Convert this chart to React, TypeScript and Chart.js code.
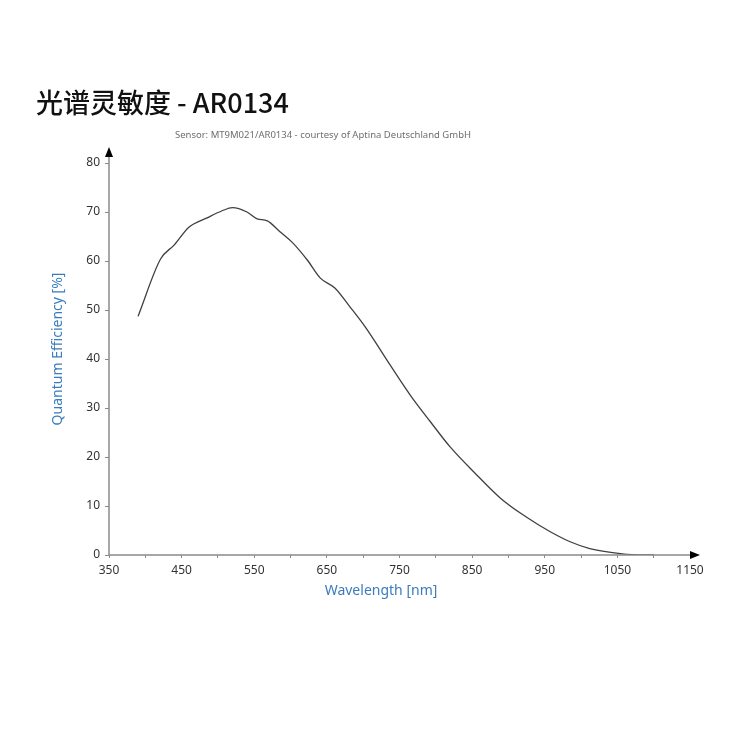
import React, { useEffect, useRef } from "react";
import { Chart, registerables } from "chart.js";

Chart.register(...registerables);

const TITLE = "光谱灵敏度 - AR0134";
const SUBTITLE = "Sensor: MT9M021/AR0134 - courtesy of Aptina Deutschland GmbH";
const X_TITLE = "Wavelength [nm]";
const Y_TITLE = "Quantum Efficiency [%]";

const wavelengths = [390, 421, 440, 460, 485, 505, 520, 540, 554, 568, 585, 603, 623, 641, 661, 682, 703, 737, 765, 792, 820, 854, 889, 923, 957, 985, 1012, 1054, 1085, 1100];
const qe = [48.7, 60.4, 63.3, 66.9, 68.8, 70.2, 70.9, 70.0, 68.6, 68.2, 66.0, 63.7, 60.2, 56.5, 54.5, 50.6, 46.5, 38.8, 32.6, 27.3, 22.0, 16.7, 11.6, 7.9, 4.8, 2.7, 1.3, 0.3, 0.0, 0.0];

const X_MIN = 350;
const X_MAX = 1150;
const Y_MIN = 0;
const Y_MAX = 80;

const FONT = "'Noto Sans', 'Open Sans', sans-serif";
const BLUE = "#3a7cbf";

const decorPlugin = {
  id: "decor",
  afterDraw(chart: any) {
    const ctx = chart.ctx as CanvasRenderingContext2D;
    const ca = chart.chartArea;
    ctx.save();
    ctx.strokeStyle = "#8a8a8a";
    ctx.lineWidth = 1.5;
    ctx.beginPath();
    ctx.moveTo(ca.left, ca.bottom);
    ctx.lineTo(ca.left, ca.top - 8);
    ctx.moveTo(ca.left, ca.bottom);
    ctx.lineTo(ca.right + 4, ca.bottom);
    ctx.stroke();
    ctx.fillStyle = "#000";
    ctx.beginPath();
    ctx.moveTo(ca.left, ca.top - 16);
    ctx.lineTo(ca.left - 4, ca.top - 6);
    ctx.lineTo(ca.left + 4, ca.top - 6);
    ctx.closePath();
    ctx.fill();
    ctx.beginPath();
    ctx.moveTo(ca.right + 10, ca.bottom);
    ctx.lineTo(ca.right, ca.bottom - 4);
    ctx.lineTo(ca.right, ca.bottom + 4);
    ctx.closePath();
    ctx.fill();
    ctx.fillStyle = "#111";
    ctx.textAlign = "left";
    ctx.textBaseline = "alphabetic";
    ctx.font = `500 27px 'Noto Sans CJK SC', ${FONT}`;
    ctx.fillText(TITLE, 36, 113);
    ctx.fillStyle = "#6e6e6e";
    ctx.textAlign = "center";
    ctx.font = `9.5px ${FONT}`;
    ctx.fillText(SUBTITLE, 323, 138);
    ctx.fillStyle = BLUE;
    ctx.font = `14px ${FONT}`;
    ctx.textAlign = "center";
    ctx.textBaseline = "middle";
    ctx.fillText(X_TITLE, 381, 591);
    ctx.save();
    ctx.translate(58, 349);
    ctx.rotate(-Math.PI / 2);
    ctx.fillText(Y_TITLE, 0, 0);
    ctx.restore();
    ctx.restore();
  },
};

export default function App() {
  const ref = useRef<HTMLCanvasElement | null>(null);
  useEffect(() => {
    if (!ref.current) return;
    const chart = new Chart(ref.current, {
      type: "line",
      data: {
        datasets: [
          {
            data: wavelengths.map((w, i) => ({ x: w, y: qe[i] })),
            borderColor: "#404040",
            borderWidth: 1.3,
            pointRadius: 0,
            cubicInterpolationMode: "monotone",
            fill: false,
          },
        ],
      },
      options: {
        animation: false,
        responsive: false,
        maintainAspectRatio: false,
        layout: { padding: { left: 0, top: 163, right: 60, bottom: 0 } },
        plugins: { legend: { display: false }, tooltip: { enabled: false }, title: { display: false } },
        scales: {
          x: {
            type: "linear",
            min: X_MIN,
            max: X_MAX,
            border: { display: false },
            grid: { drawOnChartArea: false, drawTicks: true, tickLength: 3, color: "#8a8a8a" },
            ticks: {
              stepSize: 50,
              padding: 5,
              color: "#333",
              font: { family: FONT, size: 12 },
              maxRotation: 0,
              autoSkip: false,
              callback: (v: any) => ((Number(v) - X_MIN) % 100 === 0 ? String(v) : ""),
            },
            afterFit: (s: any) => {
              s.height = 750 - 555;
            },
          },
          y: {
            type: "linear",
            min: Y_MIN,
            max: Y_MAX,
            border: { display: false },
            grid: { drawOnChartArea: false, drawTicks: true, tickLength: 4, color: "#8a8a8a" },
            ticks: {
              stepSize: 10,
              padding: 5,
              color: "#333",
              font: { family: FONT, size: 12 },
            },
            afterFit: (s: any) => {
              s.width = 109;
            },
          },
        },
      },
      plugins: [decorPlugin],
    });
    return () => chart.destroy();
  }, []);
  return (
    <div style={{ position: "fixed", left: 0, top: 0, width: 750, height: 750, background: "#fff" }}>
      <canvas ref={ref} width={750} height={750} style={{ width: 750, height: 750 }} />
    </div>
  );
}
